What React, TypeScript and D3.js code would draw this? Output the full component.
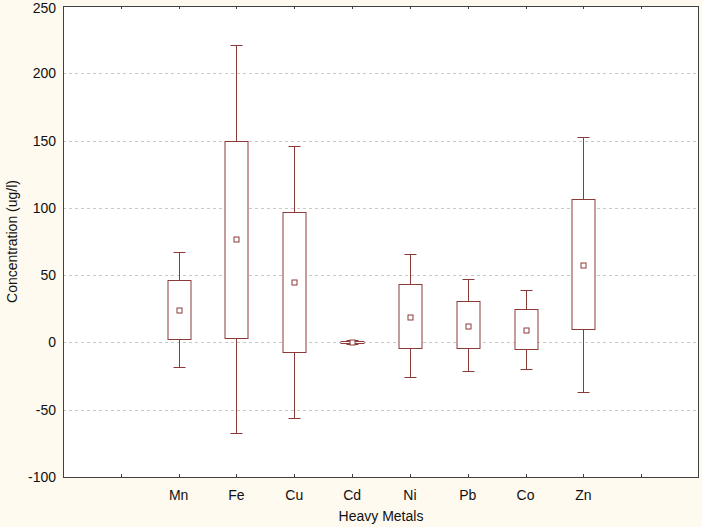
import React from "react";
import * as d3 from "d3";

const metals = ["Mn", "Fe", "Cu", "Cd", "Ni", "Pb", "Co", "Zn"];
const means = [24, 77, 44.7, 0.3, 19, 12.5, 9.3, 57.6];
const boxHigh = [46.2, 150, 96.7, 1.2, 43.2, 30.6, 24.7, 106.4];
const boxLow = [2.4, 3.1, -6.8, -0.6, -4.3, -4.3, -5, 9.8];
const whiskerHigh = [67.2, 220.8, 146.2, 1.6, 65.7, 47.2, 39, 152.9];
const whiskerLow = [-18.4, -67.2, -56.3, -1.2, -26, -21, -19.5, -37];
const yTicks = [-100, -50, 0, 50, 100, 150, 200, 250];

const W = 702, H = 527;
const L = 63, R = 699, T = 6, B = 477;
const col = "#8B3A3A";
const font = "Arial, 'Liberation Sans', sans-serif";

export default function App() {
  const slots = ["_a", ...metals, "_b"];
  const x = d3.scalePoint<string>().domain(slots).range([L, R]).padding(1);
  const y = d3.scaleLinear().domain([-100, 250]).range([B, T]);
  const boxW = 23, capW = 12, m = 5;
  return (
    <svg width={W} height={H} style={{ position: "absolute", left: 0, top: 0, display: "block" }}>
      <rect x={0} y={0} width={W} height={H} fill="#fefaf0" />
      <rect x={L} y={T} width={R - L} height={B - T} fill="#ffffff" />
      {yTicks.filter(t => t > -100 && t < 250).map(t => (
        <line key={"g" + t} x1={L} x2={R} y1={Math.round(y(t)) + 0.5} y2={Math.round(y(t)) + 0.5}
          stroke="#c8c8c8" strokeDasharray="3,3" strokeWidth={1} />
      ))}
      {metals.map((k, i) => {
        const cx = Math.round(x(k)!) + 0.5;
        const yb1 = Math.round(y(boxHigh[i])) + 0.5;
        const yb2 = Math.round(y(boxLow[i])) + 0.5;
        const yw1 = Math.round(y(whiskerHigh[i])) + 0.5;
        const yw2 = Math.round(y(whiskerLow[i])) + 0.5;
        const ym = Math.round(y(means[i])) + 0.5;
        return (
          <g key={k} stroke={col} strokeWidth={1} fill="none">
            <line x1={cx} x2={cx} y1={yw1} y2={yb1} />
            <line x1={cx} x2={cx} y1={yb2} y2={yw2} />
            <line x1={cx - capW / 2} x2={cx + capW / 2} y1={yw1} y2={yw1} />
            <line x1={cx - capW / 2} x2={cx + capW / 2} y1={yw2} y2={yw2} />
            <rect x={cx - boxW / 2} y={yb1} width={boxW} height={Math.max(yb2 - yb1, 0.5)} fill="#ffffff" />
            <rect x={cx - m / 2} y={ym - m / 2} width={m} height={m} fill="#ffffff" />
          </g>
        );
      })}
      <rect x={L + 0.5} y={T + 0.5} width={R - L - 1} height={B - T} fill="none" stroke="#404040" strokeWidth={1} />
      {slots.map(k => {
        const px = Math.round(x(k)!) + 0.5;
        return (
          <g key={"t" + k} stroke="#404040">
            <line x1={px} x2={px} y1={T} y2={T + 3} />
            <line x1={px} x2={px} y1={B} y2={B - 3} />
          </g>
        );
      })}
      {yTicks.map(t => (
        <text key={"y" + t} x={56} y={Math.max(y(t), 7.5)} dy="0.36em" textAnchor="end" fontFamily={font} fontSize={14} fill="#111">
          {t}
        </text>
      ))}
      {metals.map(k => (
        <text key={"x" + k} x={x(k)!} y={500} textAnchor="middle" fontFamily={font} fontSize={14} fill="#111">
          {k}
        </text>
      ))}
      <text x={(L + R) / 2} y={521} textAnchor="middle" fontFamily={font} fontSize={14} fill="#111">Heavy Metals</text>
      <text transform={`translate(17,${(T + B) / 2}) rotate(-90)`} textAnchor="middle" fontFamily={font} fontSize={14} fill="#111">
        Concentration (ug/l)
      </text>
    </svg>
  );
}
